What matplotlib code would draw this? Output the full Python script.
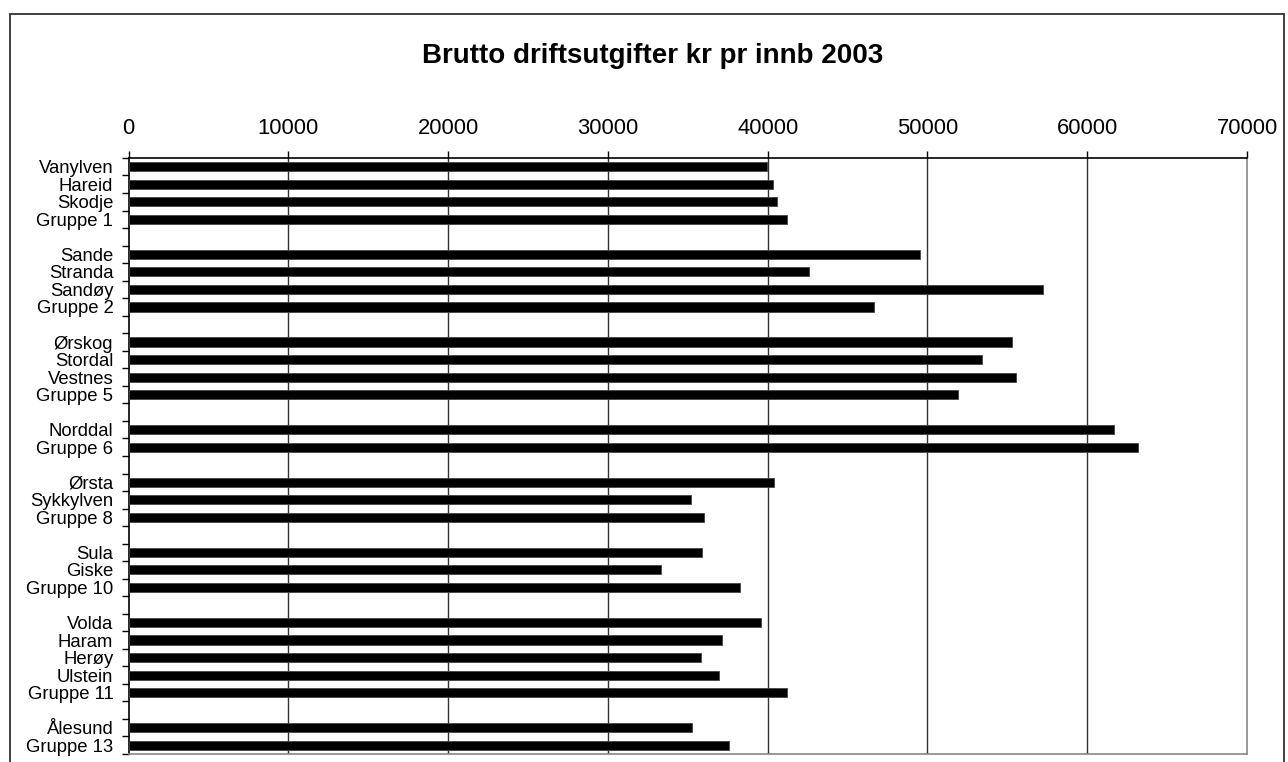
import matplotlib
matplotlib.use('Agg')
import numpy as np
import matplotlib.pyplot as plt
from matplotlib.patches import Rectangle

plt.rcParams['font.family'] = ['Liberation Sans', 'DejaVu Sans']

# empty string = blank slot between the groups
labels = ["Vanylven", "Hareid", "Skodje", "Gruppe 1", "",
          "Sande", "Stranda", "Sandøy", "Gruppe 2", "",
          "Ørskog", "Stordal", "Vestnes", "Gruppe 5", "",
          "Norddal", "Gruppe 6", "",
          "Ørsta", "Sykkylven", "Gruppe 8", "",
          "Sula", "Giske", "Gruppe 10", "",
          "Volda", "Haram", "Herøy", "Ulstein", "Gruppe 11", "",
          "Ålesund", "Gruppe 13"]
values = [39960, 40340, 40610, 41230, np.nan,
          49520, 42570, 57220, 46640, np.nan,
          55300, 53420, 55570, 51930, np.nan,
          61680, 63200, np.nan,
          40420, 35210, 36020, np.nan,
          35920, 33330, 38280, np.nan,
          39580, 37170, 35810, 36960, 41190, np.nan,
          35250, 37600]
x_ticks = [0, 10000, 20000, 30000, 40000, 50000, 60000, 70000]
title = "Brutto driftsutgifter kr pr innb 2003"

fig = plt.figure(figsize=(12.88, 7.62), dpi=100)
ax = fig.add_axes([0.0998, 0.0105, 0.8684, 0.7822])

pos = np.arange(len(labels))
ax.barh(pos, values, height=0.52, color='black', edgecolor='#444444', linewidth=0.6, zorder=3)

ax.set_xlim(0, 70000)
ax.set_ylim(len(labels) - 0.5, -0.5)

ax.xaxis.tick_top()
ax.set_xticks(x_ticks)
ax.set_xticklabels([str(t) for t in x_ticks], fontsize=15.8)
ax.tick_params(axis='x', direction='out', length=5, width=1, pad=9, colors='black')
for t in x_ticks[1:-1]:
    ax.axvline(t, color='#333333', linewidth=1, zorder=1)

# category labels on the slot centres, tick marks on the slot borders
ax.set_yticks(pos)
ax.set_yticklabels(labels, fontsize=13.3)
ax.tick_params(axis='y', which='major', length=0, pad=11)
ax.set_yticks(np.arange(-0.5, len(labels)), minor=True)
ax.tick_params(axis='y', which='minor', direction='out', length=5, width=1, color='black')

ax.spines['top'].set_color('black')
ax.spines['left'].set_color('black')
ax.spines['right'].set_color('#888888')
ax.spines['bottom'].set_color('#888888')
for s in ax.spines.values():
    s.set_linewidth(1.2)

fig.text(0.507, 0.927, title, ha='center', va='center', fontsize=20, fontweight='bold')

# outer chart border (bottom edge falls outside the picture)
fig.patches.append(Rectangle((10 / 1288, -0.05), 1274 / 1288, 1 - 14 / 762 + 0.05,
                             transform=fig.transFigure, fill=False,
                             edgecolor='#333333', linewidth=1.3))

fig.savefig('out.png', dpi=100)
